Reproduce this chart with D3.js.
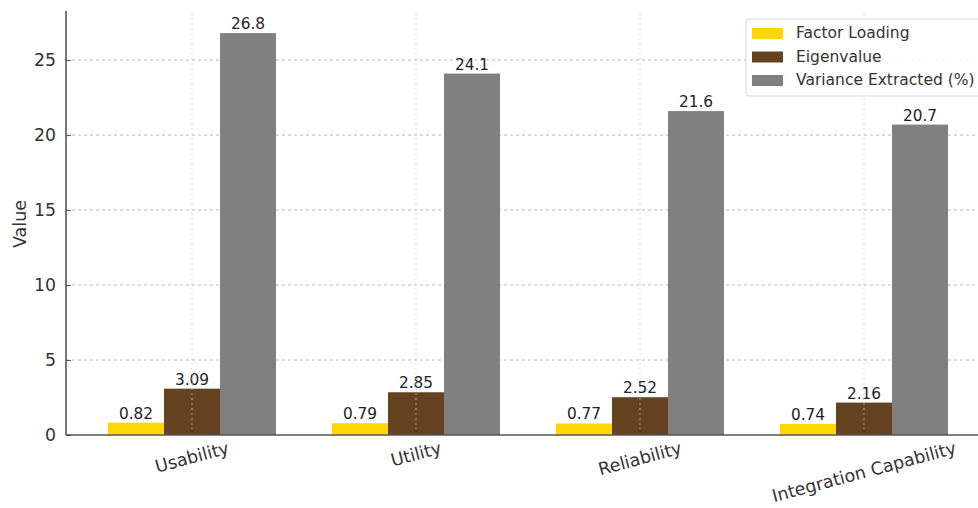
<!DOCTYPE html>
<html><head><meta charset="utf-8">
<script src="https://cdn.jsdelivr.net/npm/d3@7"></script>
<style>body{margin:0;background:#fff}svg{display:block;font-family:"DejaVu Sans",sans-serif}</style>
</head><body><svg id="c" width="978" height="508"></svg>
<script>
const categories = ["Usability", "Utility", "Reliability", "Integration Capability"];
const seriesNames = ["Factor Loading", "Eigenvalue", "Variance Extracted (%)"];
const factorLoading = [0.82, 0.79, 0.77, 0.74];
const eigenvalue = [3.09, 2.85, 2.52, 2.16];
const varianceExtracted = [26.8, 24.1, 21.6, 20.7];
const seriesColors = ["#FFD700", "#654321", "#808080"];
const yTicks = [0, 5, 10, 15, 20, 25];
const seriesValues = [factorLoading, eigenvalue, varianceExtracted];

const svg = d3.select("#c");
const mLeft = 66, mBottom = 435, mTop = 13;
const step = 224;
const xi = d3.scaleLinear().domain([-0.5625, 3.5625]).range([mLeft, mLeft + 4.125 * step]);
const y = d3.scaleLinear().domain([0, 28.14]).range([mBottom, mTop]);
const bw = 0.25;

// horizontal grid
svg.append("g").selectAll("line").data(yTicks.filter(d => d > 0)).join("line")
  .attr("x1", mLeft).attr("x2", 978).attr("y1", d => y(d)).attr("y2", d => y(d))
  .attr("stroke", "#b0b0b0").attr("stroke-width", 0.9).attr("stroke-dasharray", "3,3");

// bars
seriesValues.forEach((vals, s) => {
  svg.append("g").selectAll("rect").data(vals).join("rect")
    .attr("x", (d, i) => xi(i + (s - 1) * bw - bw / 2))
    .attr("width", xi(bw) - xi(0))
    .attr("y", d => y(d)).attr("height", d => y(0) - y(d))
    .attr("fill", seriesColors[s]);
  svg.append("g").selectAll("text").data(vals).join("text")
    .attr("x", (d, i) => xi(i + (s - 1) * bw))
    .attr("y", d => y(d) - 4)
    .attr("text-anchor", "middle").attr("font-size", 15.3).attr("fill", "#222")
    .text(d => d);
});

// vertical grid
svg.append("g").selectAll("line").data(categories).join("line")
  .attr("x1", (d, i) => xi(i)).attr("x2", (d, i) => xi(i))
  .attr("y1", mTop).attr("y2", mBottom)
  .attr("stroke", "#c8c8c8").attr("stroke-width", 0.9).attr("stroke-dasharray", "2,3").attr("opacity", 0.8);

// axes
const yAxis = d3.axisLeft(y).tickValues(yTicks).tickSizeInner(-5).tickSizeOuter(0).tickPadding(10);
const gy = svg.append("g").attr("transform", `translate(${mLeft},0)`).call(yAxis);
gy.select(".domain").attr("stroke", "#555").attr("stroke-width", 1.6).attr("d", `M0,${mTop - 2}V${mBottom}`);
gy.selectAll(".tick line").attr("stroke", "#555");
gy.selectAll(".tick text").attr("font-size", 17.3).attr("fill", "#333").attr("font-family", "DejaVu Sans");

svg.append("line").attr("x1", mLeft).attr("x2", 978).attr("y1", mBottom).attr("y2", mBottom)
  .attr("stroke", "#555").attr("stroke-width", 1.6);
svg.append("g").selectAll("line").data(categories).join("line")
  .attr("x1", (d, i) => xi(i)).attr("x2", (d, i) => xi(i)).attr("y1", mBottom).attr("y2", mBottom - 5)
  .attr("stroke", "#333");

// x labels rotated 15deg
const rot = 15 * Math.PI / 180;
const xFs = 17.5;
svg.append("g").selectAll("text").data(categories).join("text")
  .attr("font-size", xFs).attr("fill", "#333").attr("text-anchor", "middle")
  .attr("dominant-baseline", "central")
  .text(d => d)
  .each(function (d, i) {
    const w = this.getComputedTextLength();
    const hr = w * Math.sin(rot) + xFs * Math.cos(rot);
    const cx = xi(i), cy = mBottom + 4 + hr / 2;
    d3.select(this).attr("x", cx).attr("y", cy).attr("transform", `rotate(-15,${cx},${cy})`);
  });

// y label
svg.append("text").attr("transform", "translate(20,224) rotate(-90)")
  .attr("text-anchor", "middle").attr("dominant-baseline", "central")
  .attr("font-size", 17.5).attr("fill", "#333").text("Value");

// legend
const lg = svg.append("g");
lg.append("rect").attr("x", 746).attr("y", 19).attr("width", 240).attr("height", 77).attr("rx", 3)
  .attr("fill", "#fff").attr("fill-opacity", 0.85).attr("stroke", "#d8d8d8");
seriesNames.forEach((n, s) => {
  const yy = 33 + s * 23.5;
  lg.append("rect").attr("x", 752).attr("y", yy - 5).attr("width", 31).attr("height", 11).attr("fill", seriesColors[s]);
  lg.append("text").attr("x", 796).attr("y", yy).attr("dominant-baseline", "central")
    .attr("font-size", 15.5).attr("fill", "#333").text(n);
});
</script></body></html>
